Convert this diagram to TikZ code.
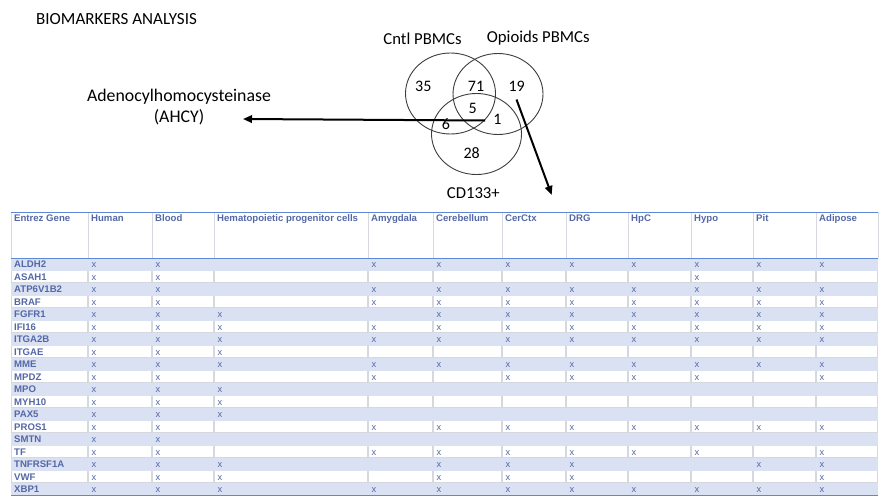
\documentclass[tikz,border=0pt]{standalone}
\usepackage{fontspec}
\setmainfont{Carlito}
\newfontfamily\tabfont{Liberation Sans}
\usetikzlibrary{arrows.meta,shapes.geometric}
\definecolor{hdr}{RGB}{84,104,166}
\definecolor{stripe}{RGB}{218,225,242}
\definecolor{bline}{RGB}{95,135,215}
\definecolor{gline}{RGB}{214,216,224}
\definecolor{vennc}{RGB}{60,60,60}
\tikzset{
 venn/.style={draw=vennc, line width=0.9pt, ellipse, minimum width=90pt, minimum height=81pt, inner sep=0pt},
 vnum/.style={font=\fontsize{16}{19}\selectfont, text=black, inner sep=0pt},
 vlab/.style={font=\fontsize{16.7}{19}\selectfont, text=black, inner sep=0pt},
 bigarrow/.style={line width=2pt, -{Triangle[length=9pt,width=7.5pt]}},
 thead/.style={font=\tabfont\bfseries\fontsize{9.6}{11}\selectfont, text=hdr, anchor=base west, inner sep=0pt},
 gname/.style={font=\tabfont\bfseries\fontsize{9.6}{11}\selectfont, text=hdr, anchor=base west, inner sep=0pt},
 xmark/.style={font=\tabfont\fontsize{9.3}{11}\selectfont, text=hdr, anchor=base west, inner sep=0pt},
}
\begin{document}
\begin{tikzpicture}[x=1pt,y=-1pt]
\useasboundingbox (0,0) rectangle (888,501);
\def\colx{{11,88,152,214,368,433,502,566,628,691,753,816,878}}
\def\rows{ALDH2/{1,1,0,1,1,1,1,1,1,1,1},
ASAH1/{1,1,0,0,0,0,0,0,1,0,0},
ATP6V1B2/{1,1,0,1,1,1,1,1,1,1,1},
BRAF/{1,1,0,1,1,1,1,1,1,1,1},
FGFR1/{1,1,1,0,1,1,1,1,1,1,1},
IFI16/{1,1,1,1,1,1,1,1,1,1,1},
ITGA2B/{1,1,1,1,1,1,1,1,1,1,1},
ITGAE/{1,1,1,0,0,0,0,0,0,0,0},
MME/{1,1,1,1,1,1,1,1,1,1,1},
MPDZ/{1,1,0,1,0,1,1,1,1,0,1},
MPO/{1,1,1,0,0,0,0,0,0,0,0},
MYH10/{1,1,1,0,0,0,0,0,0,0,0},
PAX5/{1,1,1,0,0,0,0,0,0,0,0},
PROS1/{1,1,0,1,1,1,1,1,1,1,1},
SMTN/{1,1,0,0,0,0,0,0,0,0,0},
TF/{1,1,0,1,1,1,1,1,1,0,1},
TNFRSF1A/{1,1,1,0,1,1,1,0,0,1,1},
VWF/{1,1,1,0,1,1,1,0,0,0,1},
XBP1/{1,1,1,1,1,1,1,1,1,1,1}}

% ---------- title ----------
\node[font=\fontsize{17}{19}\selectfont, anchor=west, inner sep=0pt] (title) at (36,19) {BIOMARKERS ANALYSIS};

% ---------- Venn ----------
\node[venn] (cntl) at (450.5,93.5) {};
\node[venn] (opio) at (498,94) {};
\node[venn] (cd) at (476.5,134) {};
\node[vlab] (lcntl) at (422.5,38.3) {Cntl PBMCs};
\node[vlab] (lopio) at (538.3,38.3) {Opioids PBMCs};
\node[vlab] (lcd) at (473.3,193.3) {CD133+};
\node[vnum] (n35) at (423.3,86.7) {35};
\node[vnum] (n71) at (476,86.7) {71};
\node[vnum] (n19) at (516.7,86.7) {19};
\node[vnum] (n5) at (472.7,108.3) {5};
\node[vnum] (n6) at (446,124.3) {6};
\node[vnum] (n1) at (497.3,119.3) {1};
\node[vnum] (n28) at (471.7,153.3) {28};

\node[font=\fontsize{17.8}{20.6}\selectfont, align=center, inner sep=0pt] (ahcy) at (179,107) {Adenocylhomocysteinase\\(AHCY)};

\coordinate (s1) at (485,120.5);
\coordinate (e1) at (243,119);
\draw[bigarrow] (s1) -- (e1);
\coordinate (s2) at (516.5,99.5);
\coordinate (e2) at (551.7,195);
\draw[bigarrow] (s2) -- (e2);

% ---------- table backgrounds ----------
\foreach \g/\pat [count=\i from 0] in \rows {
  \pgfmathsetmacro{\ry}{258+12.5*\i}
  \ifodd\i
    \fill[gline] (11,\ry) rectangle (878,{\ry+12.5});
    \foreach \k in {0,...,11} {
      \pgfmathsetmacro{\xa}{\colx[\k]+0.7}
      \pgfmathsetmacro{\xb}{\colx[\k+1]-0.7}
      \fill[white] (\xa,{\ry+0.7}) rectangle (\xb,{\ry+11.8});
    }
  \else
    \fill[stripe] (11,\ry) rectangle (878,{\ry+12.5});
  \fi
}
\foreach \k in {0,...,12} {
  \pgfmathsetmacro{\xa}{\colx[\k]}
  \draw[gline, line width=0.9pt] (\xa,212) -- (\xa,258);
}
\draw[bline, line width=0.9pt] (11,212) -- (878,212);
\draw[bline, line width=1pt] (11,258) -- (878,258);
\draw[bline, line width=1.1pt] (11,495.8) -- (878,495.8);

% ---------- header ----------
\foreach \h [count=\k from 0] in {Entrez Gene,Human,Blood,Hematopoietic progenitor cells,Amygdala,Cerebellum,CerCtx,DRG,HpC,Hypo,Pit,Adipose} {
  \pgfmathsetmacro{\xa}{\colx[\k]+3}
  \node[thead] (h\k) at (\xa,221.8) {\h};
}

% ---------- rows ----------
\foreach \g/\pat [count=\i from 0] in \rows {
  \pgfmathsetmacro{\ry}{258+12.5*\i}
  \node[gname] (g\i) at (14,{\ry+9.9}) {\g};
  \foreach \v [count=\j] in \pat {
    \ifnum\v=1
      \pgfmathsetmacro{\cx}{\colx[\j]+3.5}
      \node[xmark] (x\i-\j) at (\cx,{\ry+9.6}) {x};
    \fi
  }
}
\end{tikzpicture}
\end{document}
